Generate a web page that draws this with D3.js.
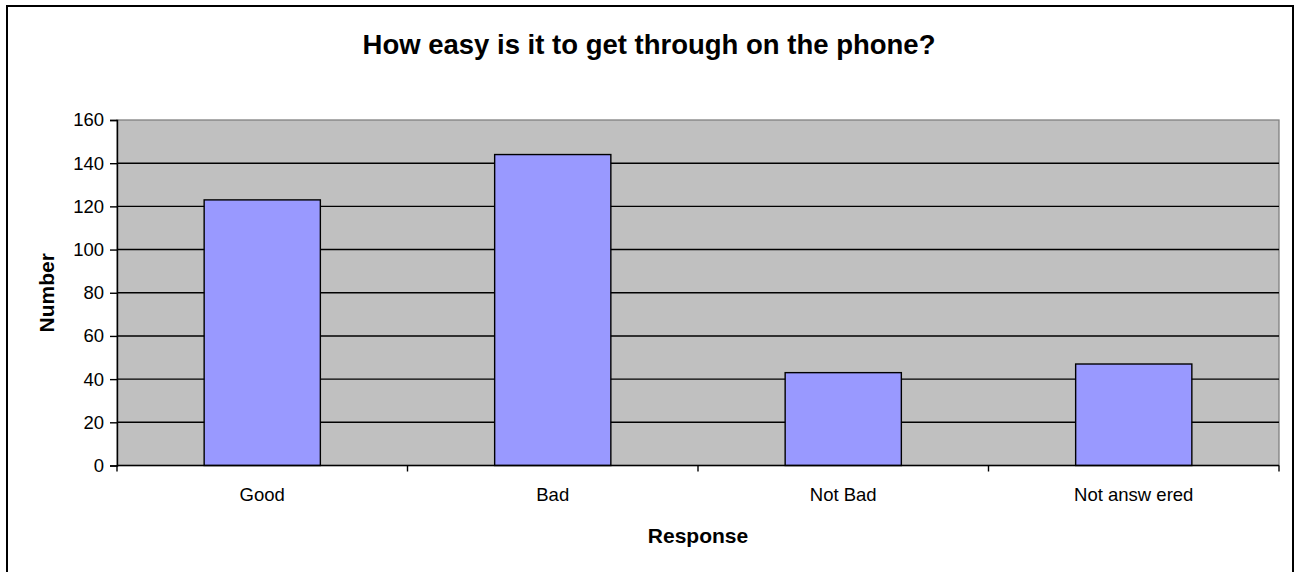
<!DOCTYPE html>
<html>
<head>
<meta charset="utf-8">
<script src="https://cdn.jsdelivr.net/npm/d3@7/dist/d3.min.js"></script>
<style>
  html, body { margin: 0; padding: 0; background: #fff; }
  svg { display: block; font-family: Arial, "Liberation Sans", sans-serif; }
</style>
</head>
<body>
<svg id="chart" width="1295" height="572"></svg>
<script>
const categories = ["Good", "Bad", "Not Bad", "Not answ ered"];
const values = [123, 144, 43, 47];
const yTicks = [0, 20, 40, 60, 80, 100, 120, 140, 160];
const titleText = "How easy is it to get through on the phone?";
const xTitle = "Response";
const yTitle = "Number";

const svg = d3.select("#chart");
const plot = { left: 117, top: 120, right: 1279, bottom: 465.5 };

// outer border
svg.append("rect")
  .attr("x", 7).attr("y", 6).attr("width", 1286).attr("height", 600)
  .attr("fill", "#fff").attr("stroke", "#000").attr("stroke-width", 2);

const x = d3.scaleBand().domain(categories)
  .range([plot.left, plot.right]).paddingInner(0.6).paddingOuter(0.3);
const y = d3.scaleLinear().domain([0, 160]).range([plot.bottom, plot.top]);

// plot background
svg.append("rect")
  .attr("x", plot.left).attr("y", plot.top)
  .attr("width", plot.right - plot.left).attr("height", plot.bottom - plot.top)
  .attr("fill", "#C0C0C0").attr("stroke", "#808080").attr("stroke-width", 1.3);

// gridlines
svg.append("g").selectAll("line").data(yTicks.filter(d => d > 0 && d < 160)).join("line")
  .attr("x1", plot.left).attr("x2", plot.right)
  .attr("y1", d => y(d)).attr("y2", d => y(d))
  .attr("stroke", "#000").attr("stroke-width", 1.4);

// bars
svg.append("g").selectAll("rect").data(values).join("rect")
  .attr("x", (d, i) => x(categories[i]))
  .attr("y", d => y(d))
  .attr("width", x.bandwidth())
  .attr("height", d => y(0) - y(d))
  .attr("fill", "#9999FF").attr("stroke", "#000").attr("stroke-width", 1.4);

// y axis
const yAxis = d3.axisLeft(y).tickValues(yTicks).tickSize(7).tickPadding(6);
const gy = svg.append("g").attr("transform", `translate(${plot.left},0)`).call(yAxis);
gy.select(".domain").attr("stroke", "#000").attr("stroke-width", 1.4);
gy.selectAll(".tick line").attr("stroke", "#000").attr("stroke-width", 1.4);
gy.selectAll(".tick text").attr("font-size", 18.5).attr("fill", "#000")
  .attr("font-family", "Arial, 'Liberation Sans', sans-serif");

// x axis with ticks at category boundaries
const gx = svg.append("g").attr("transform", `translate(0,${plot.bottom})`);
gx.append("line").attr("x1", plot.left).attr("x2", plot.right)
  .attr("stroke", "#000").attr("stroke-width", 1.4);
const bounds = categories.map(c => x(c) - x.step() * x.paddingOuter());
bounds.push(plot.right);
gx.selectAll("line.tk").data(bounds).join("line").attr("class", "tk")
  .attr("x1", d => d).attr("x2", d => d).attr("y1", 0).attr("y2", 6)
  .attr("stroke", "#000").attr("stroke-width", 1.4);
gx.selectAll("text").data(categories).join("text")
  .attr("x", d => x(d) + x.bandwidth() / 2)
  .attr("y", 35.5)
  .attr("text-anchor", "middle")
  .attr("font-size", 18.5).attr("fill", "#000")
  .text(d => d);

// title
svg.append("text").attr("x", 649).attr("y", 53.5)
  .attr("text-anchor", "middle").attr("font-size", 27.5).attr("font-weight", "bold")
  .text(titleText);

// axis titles
svg.append("text").attr("x", (plot.left + plot.right) / 2).attr("y", 543)
  .attr("text-anchor", "middle").attr("font-size", 21).attr("font-weight", "bold")
  .text(xTitle);
svg.append("text")
  .attr("transform", `translate(54,${(plot.top + plot.bottom) / 2}) rotate(-90)`)
  .attr("text-anchor", "middle").attr("font-size", 21).attr("font-weight", "bold")
  .text(yTitle);
</script>
</body>
</html>
